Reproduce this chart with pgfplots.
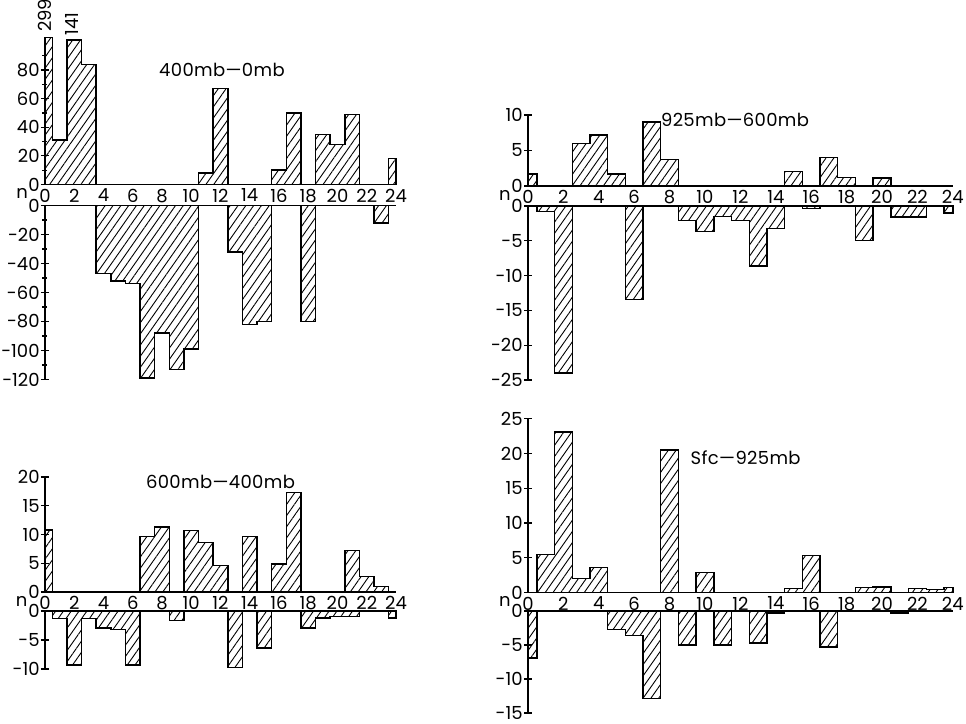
\documentclass[border=0pt]{standalone}
\usepackage{fontspec}
\setmainfont{Poppins}
\newfontfamily\titlefont[LetterSpace=2]{Poppins}
\usepackage{pgfplots}
\pgfplotsset{compat=1.18}
\usepackage{pgfplotstable}
\usetikzlibrary{patterns.meta}

\pgfplotstableread{
x y
0 299
0.5 31
1.5 141
2.5 84
3.5 0
4.5 0
5.5 0
6.5 0
7.5 0
8.5 0
9.5 0
10.5 8
11.5 67
12.5 0
13.5 0
14.5 0
15.5 10
16.5 50
17.5 0
18.5 35
19.5 28
20.5 49
21.5 0
22.5 0
23.5 18
24 18
}\Atop
\pgfplotstableread{
x y
0 0
0.5 0
1.5 0
2.5 0
3.5 -47
4.5 -52
5.5 -54
6.5 -119
7.5 -88
8.5 -113
9.5 -99
10.5 0
11.5 0
12.5 -32
13.5 -82
14.5 -80
15.5 0
16.5 0
17.5 -80
18.5 0
19.5 0
20.5 0
21.5 0
22.5 -12
23.5 0
24 0
}\Abot
\pgfplotstableread{
x y
0 1.7
0.5 0
1.5 0
2.5 6
3.5 7.2
4.5 1.7
5.5 0
6.5 9
7.5 3.7
8.5 0
9.5 0
10.5 0
11.5 0
12.5 0
13.5 0
14.5 2
15.5 0
16.5 4
17.5 1.2
18.5 0
19.5 1.1
20.5 0
21.5 0
22.5 0
23.5 0
24 0
}\Btop
\pgfplotstableread{
x y
0 0
0.5 -0.8
1.5 -24
2.5 0
3.5 0
4.5 0
5.5 -13.4
6.5 0
7.5 0
8.5 -2.1
9.5 -3.7
10.5 -1.5
11.5 -2.1
12.5 -8.6
13.5 -3.2
14.5 0
15.5 -0.4
16.5 0
17.5 0
18.5 -5
19.5 0
20.5 -1.6
21.5 -1.6
22.5 0
23.5 -1
24 -1
}\Bbot
\pgfplotstableread{
x y
0 10.8
0.5 0
1.5 0
2.5 0
3.5 0
4.5 0
5.5 0
6.5 9.7
7.5 11.3
8.5 0
9.5 10.7
10.5 8.6
11.5 4.6
12.5 0
13.5 9.7
14.5 0
15.5 4.9
16.5 17.3
17.5 0
18.5 0
19.5 0
20.5 7.2
21.5 2.7
22.5 1
23.5 0
24 0
}\Ctop
\pgfplotstableread{
x y
0 0
0.5 -1.3
1.5 -9.3
2.5 -1.3
3.5 -2.9
4.5 -3.2
5.5 -9.3
6.5 0
7.5 0
8.5 -1.6
9.5 0
10.5 0
11.5 0
12.5 -9.7
13.5 0
14.5 -6.4
15.5 0
16.5 0
17.5 -2.9
18.5 -1.2
19.5 -1
20.5 -0.9
21.5 0
22.5 0
23.5 -1.2
24 -1.2
}\Cbot
\pgfplotstableread{
x y
0 0
0.5 5.5
1.5 23.1
2.5 2
3.5 3.6
4.5 0
5.5 0
6.5 0
7.5 20.5
8.5 0
9.5 2.9
10.5 0
11.5 0
12.5 0
13.5 0
14.5 0.6
15.5 5.3
16.5 0
17.5 0
18.5 0.7
19.5 0.8
20.5 0
21.5 0.6
22.5 0.45
23.5 0.75
24 0.75
}\Dtop
\pgfplotstableread{
x y
0 -6.9
0.5 0
1.5 0
2.5 0
3.5 0
4.5 -2.7
5.5 -3.6
6.5 -12.9
7.5 0
8.5 -5
9.5 0
10.5 -5
11.5 0
12.5 -4.7
13.5 -0.3
14.5 0
15.5 0
16.5 -5.3
17.5 0
18.5 0
19.5 0
20.5 -0.3
21.5 0
22.5 0
23.5 0
24 0
}\Dbot

\newcommand{\lab}{\fontsize{9}{10}\selectfont}
\pgfplotsset{
  hist/.style={const plot mark left, mark=none, draw=black, line width=0.7pt,
    line join=miter, pattern={Lines[angle=55,distance=3.2pt,line width=0.45pt]}},
  base/.style={anchor=origin, clip=false, xmin=0, xmax=24, axis y line*=left,
    axis line style={line width=0.7pt, black},
    every tick/.style={black, line width=0.6pt},
    major tick length=4pt, minor tick length=2.5pt, tick align=center,
    tick label style={font=\lab},
    /pgf/number format/assume math mode=true,
    yticklabel style={inner sep=0.5pt},
    xtick=\empty},
  top/.style={base, axis x line*=bottom, ymin=0,
    extra x ticks={0,2,...,24},
    extra x tick style={major tick length=0pt, xticklabel style={inner sep=0pt, yshift=-2pt}}},
  bot/.style={base, axis x line*=top, ymax=0},
}

\begin{document}
\begin{tikzpicture}
\useasboundingbox (0,0) rectangle (483pt,362pt);
% ---------- 400mb-0mb ----------
\begin{axis}[top, at={(22.5pt,269.75pt)}, x=7.3125pt, y=0.715pt, ymax=103,
  ytick={0,20,...,80}, minor ytick={10,30,...,90}]
\addplot[hist, y filter/.expression={y>250?103:(y>120?101:y)}] table {\Atop} \closedcycle;
\node[rotate=90, anchor=west, font=\lab, inner sep=1pt] at (axis cs:0,105) {299};
\node[rotate=90, anchor=west, font=\lab, inner sep=1pt] at (axis cs:1.85,102.5) {141};
\node[font=\lab, yshift=-4.5pt] at (axis cs:-1.57,0) {n};
\node[font=\titlefont\lab] at (axis cs:12.1,80) {400mb—0mb};
\end{axis}
\begin{axis}[bot, at={(22.5pt,259.25pt)}, x=7.3125pt, y=0.725pt, ymin=-120,
  ytick={-120,-100,...,0}, minor ytick={-110,-90,...,-10}]
\addplot[hist] table {\Abot} \closedcycle;
\end{axis}
% ---------- 925mb-600mb ----------
\begin{axis}[top, at={(264pt,269pt)}, x=8.85pt, y=3.55pt, ymax=10,
  ytick={0,5,10}]
\addplot[hist] table {\Btop} \closedcycle;
\node[font=\lab, yshift=-4.5pt] at (axis cs:-1.3,0) {n};
\node[font=\titlefont\lab] at (axis cs:11.7,9.3) {925mb—600mb};
\end{axis}
\begin{axis}[bot, at={(264pt,259pt)}, x=8.85pt, y=3.48pt, ymin=-25,
  ytick={-25,-20,...,0}]
\addplot[hist] table {\Bbot} \closedcycle;
\end{axis}
% ---------- 600mb-400mb ----------
\begin{axis}[top, at={(22.5pt,66pt)}, x=7.3125pt, y=2.875pt, ymax=20,
  ytick={0,5,...,20}]
\addplot[hist] table {\Ctop} \closedcycle;
\node[font=\lab, yshift=-4.5pt] at (axis cs:-1.6,0) {n};
\node[font=\titlefont\lab] at (axis cs:12.0,19.1) {600mb—400mb};
\end{axis}
\begin{axis}[bot, at={(22.5pt,56.5pt)}, x=7.3125pt, y=2.9pt, ymin=-10,
  ytick={-10,-5,0}]
\addplot[hist] table {\Cbot} \closedcycle;
\end{axis}
% ---------- Sfc-925mb ----------
\begin{axis}[top, at={(264pt,65.75pt)}, x=8.85pt, y=3.475pt, ymax=25,
  ytick={0,5,...,25}]
\addplot[hist] table {\Dtop} \closedcycle;
\node[font=\lab, yshift=-4.5pt] at (axis cs:-1.3,0) {n};
\node[font=\titlefont\lab] at (axis cs:12.3,19.4) {Sfc—925mb};
\end{axis}
\begin{axis}[bot, at={(264pt,56.5pt)}, x=8.85pt, y=3.4pt, ymin=-15,
  ytick={-15,-10,...,0}]
\addplot[hist] table {\Dbot} \closedcycle;
\end{axis}
\end{tikzpicture}
\end{document}
